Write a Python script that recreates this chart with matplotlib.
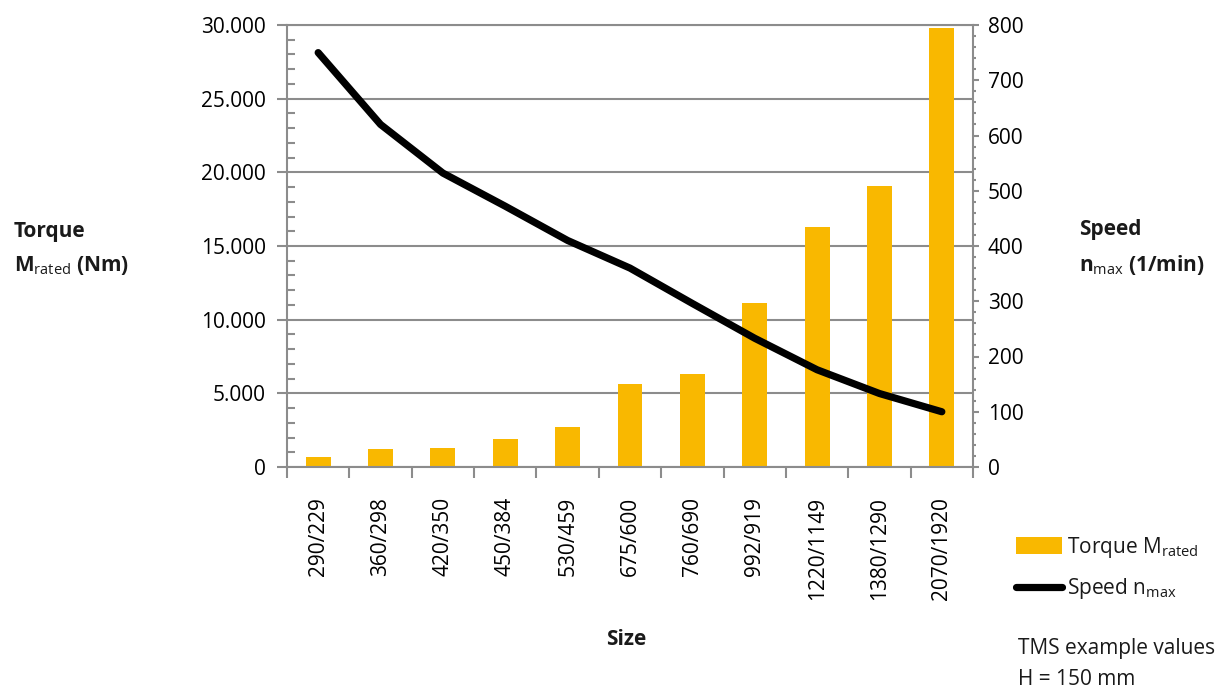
import numpy as np
import matplotlib
matplotlib.use('Agg')
import matplotlib.pyplot as plt
from matplotlib.ticker import MultipleLocator, FixedLocator, FuncFormatter, NullFormatter

plt.rcParams['font.family'] = ['Open Sans', 'DejaVu Sans']
plt.rcParams['mathtext.fontset'] = 'custom'
plt.rcParams['mathtext.rm'] = 'Open Sans'
plt.rcParams['mathtext.bf'] = 'Open Sans:bold'
plt.rcParams['text.color'] = '#1a1a1a'

# data
sizes = ['290/229', '360/298', '420/350', '450/384', '530/459', '675/600',
         '760/690', '992/919', '1220/1149', '1380/1290', '2070/1920']
torque = [700, 1250, 1300, 1900, 2700, 5600, 6300, 11100, 16300, 19100, 29800]
speed = [750, 620, 532, 472, 410, 360, 296, 233, 176, 133, 100]

orange = '#F9B800'
grey = '#8c8c8c'
fs = 15

fig = plt.figure(figsize=(12.22, 6.89), dpi=100)
ax = fig.add_axes([287/1222, 1 - 467/689, 686/1222, 442/689])
x = np.arange(len(sizes))

bars = ax.bar(x, torque, width=0.4, color=orange, zorder=2, label='Torque M$_{\\mathrm{rated}}$')
ax.set_xlim(-0.5, len(sizes) - 0.5)
ax.set_ylim(0, 30000)

# left axis
ax.yaxis.set_major_locator(MultipleLocator(5000))
ax.yaxis.set_minor_locator(MultipleLocator(1000))
ax.yaxis.set_major_formatter(FuncFormatter(lambda v, p: f'{int(v):,}'.replace(',', '.')))
ax.tick_params(axis='y', which='major', direction='out', length=7.2, width=1.5,
               color=grey, pad=8, labelsize=fs)
ax.tick_params(axis='y', which='minor', direction='in', length=5.8, width=1.5, color=grey)
ax.grid(axis='y', which='major', color=grey, linewidth=1.5, zorder=0)
ax.set_axisbelow(True)

# category axis: separators as major ticks, labels on minor ticks
ax.xaxis.set_major_locator(FixedLocator(np.arange(-0.5, len(sizes), 1)))
ax.xaxis.set_major_formatter(NullFormatter())
ax.xaxis.set_minor_locator(FixedLocator(x))
ax.set_xticks(x, sizes, minor=True, rotation=90)
ax.tick_params(axis='x', which='major', direction='out', length=8, width=1.5, color=grey)
ax.tick_params(axis='x', which='minor', length=0, pad=21.5, labelsize=fs)

for s in ['left', 'bottom', 'top']:
    ax.spines[s].set_color(grey)
    ax.spines[s].set_linewidth(1.5)
ax.spines['right'].set_visible(False)

# right axis
ax2 = ax.twinx()
line, = ax2.plot(x, speed, color='black', linewidth=5.2, solid_capstyle='round',
                 solid_joinstyle='round', label='Speed n$_{\\mathrm{max}}$', zorder=3)
ax2.set_ylim(0, 800)
ax2.yaxis.set_major_locator(MultipleLocator(100))
ax2.yaxis.set_minor_locator(MultipleLocator(20))
ax2.tick_params(axis='y', which='major', direction='out', length=4.3, width=1.5,
                color=grey, pad=6.5, labelsize=fs)
ax2.tick_params(axis='y', which='minor', direction='out', length=2.5, width=1.5, color=grey)
for s in ['left', 'bottom', 'top']:
    ax2.spines[s].set_visible(False)
ax2.spines['right'].set_color(grey)
ax2.spines['right'].set_linewidth(1.5)

# axis titles
fig.text(14/1222, 1 - 237/689, 'Torque', fontsize=fs, fontweight='bold', va='baseline')
fig.text(14/1222, 1 - 271/689, '$\\mathbf{M}_{\\mathrm{rated}}$ (Nm)', fontsize=fs,
         fontweight='bold', va='baseline')
fig.text(1079/1222, 1 - 235/689, 'Speed', fontsize=fs, fontweight='bold', va='baseline')
fig.text(1079/1222, 1 - 271/689, '$\\mathbf{n}_{\\mathrm{max}}$ (1/min)', fontsize=fs,
         fontweight='bold', va='baseline')
fig.text(626/1222, 1 - 645/689, 'Size', fontsize=fs, fontweight='bold', ha='center',
         va='baseline')

# legend and note
fig.legend(handles=[bars, line], loc='upper left', bbox_to_anchor=(999/1222, 1 - 518/689),
           frameon=False, fontsize=fs, handlelength=2.2, handleheight=0.85,
           handletextpad=0.25, labelspacing=0.8, borderpad=0.3)
fig.text(1018/1222, 1 - 654/689, 'TMS example values', fontsize=fs, va='baseline')
fig.text(1018/1222, 1 - 685/689, 'H = 150 mm', fontsize=fs, va='baseline')

fig.savefig('out.png', dpi=100, facecolor='white')
